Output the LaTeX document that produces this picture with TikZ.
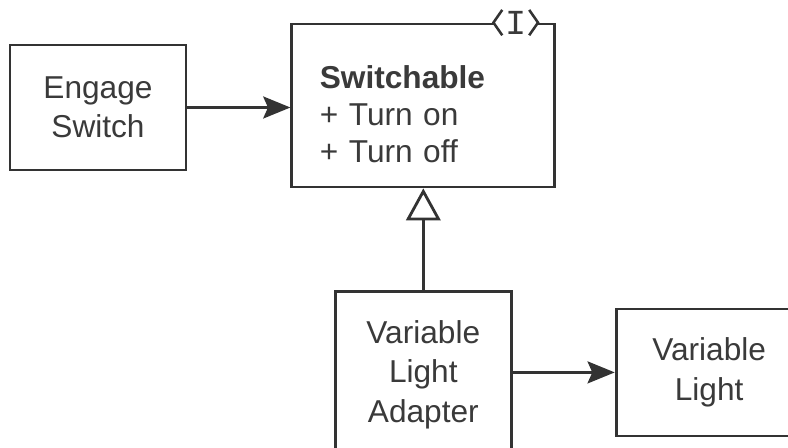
\documentclass[tikz,border=0pt]{standalone}
\usepackage{fontspec}
\setmainfont{Liberation Sans}
\newfontfamily\ifacefont{Liberation Mono}
\usetikzlibrary{arrows.meta, positioning}
\definecolor{linegray}{HTML}{333333}
\definecolor{textgray}{HTML}{3A3A3A}

\begin{document}
\begin{tikzpicture}[
        block/.style={rectangle, draw=linegray, line width=2pt, fill=white,
            text=textgray, align=center, inner sep=0pt,
            font=\fontsize{22.5}{28}\selectfont},
        iface/.style={rectangle, draw=linegray, line width=2pt, fill=white,
            text=textgray, align=left, inner xsep=0.7cm, inner ysep=0pt,
            font=\fontsize{22.5}{26.5}\selectfont},
        assoc/.style={draw=linegray, line width=2pt,
            -{Stealth[length=0.68cm, width=0.55cm, inset=0.12cm]}},
        realize/.style={draw=linegray, line width=2pt,
            -{Triangle[open, length=0.8cm, width=0.86cm, fill=white]}},
        chevron/.style={draw=linegray, line width=1.8pt},
    ]
        \useasboundingbox (0,0) rectangle (19.7,11.175);
        \clip (0,0) rectangle (19.7,11.175);

        \node[block, minimum width=4.4cm, minimum height=3.125cm] (engage)
            at (2.45,8.4875) {Engage\\Switch};
        \node[iface, text width=5.175cm, minimum height=4.075cm] (switchable)
            [right=2.575cm of engage, yshift=0.05cm]
            {\rule{0pt}{1cm}\textbf{Switchable}\\+ Turn on\\+ Turn off};
        \node[block, minimum width=4.4cm, minimum height=4.15cm] (adapter)
            [below=2.55cm of switchable] {Variable\\Light\\Adapter};
        \node[block, minimum width=4.65cm, minimum height=3.175cm] (light)
            [right=2.55cm of adapter, yshift=0.06cm] {Variable\\Light};

        % Interface marker
        \node[fill=white, inner sep=0pt, minimum width=1.1cm, minimum height=0.62cm,
            text=textgray, font=\ifacefont\fontsize{25}{25}\selectfont] (mark)
            at ([xshift=-1.0125cm]switchable.north east) {I};
        \draw[chevron] ([xshift=0.22cm]mark.north west) -- (mark.west)
            -- ([xshift=0.22cm]mark.south west);
        \draw[chevron] ([xshift=-0.22cm]mark.north east) -- (mark.east)
            -- ([xshift=-0.22cm]mark.south east);

        \draw[assoc] (engage.east) -- (engage.east -| switchable.west);
        \draw[realize] (adapter.north) -- (switchable.south);
        \draw[assoc] (adapter.east |- light.west) -- (light.west);
    \end{tikzpicture}
\end{document}
